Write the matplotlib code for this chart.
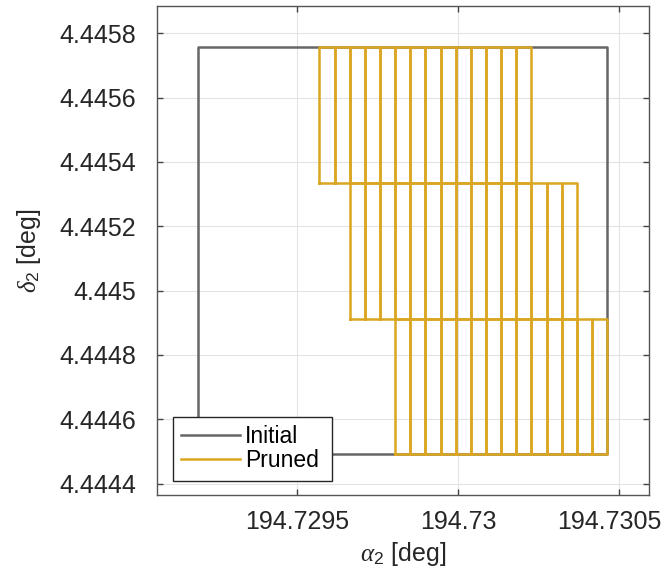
import matplotlib
matplotlib.use("Agg")
import matplotlib.pyplot as plt
from matplotlib.transforms import ScaledTranslation

# Initial search box (right ascension / declination, degrees)
alpha_bounds = [194.729195, 194.730462]
delta_bounds = [4.444491, 4.445758]

# Box subdivision: columns in alpha, rows in delta
n_alpha = 27
n_delta = 3

# Cells that survive pruning, per delta row (row 0 = lowest declination)
kept_cols = {
    0: list(range(13, 27)),
    1: list(range(10, 25)),
    2: list(range(8, 22)),
}

xticks = [194.7295, 194.73, 194.7305]
xtick_labels = ["194.7295", "194.73", "194.7305"]
yticks = [4.4444, 4.4446, 4.4448, 4.445, 4.4452, 4.4454, 4.4456, 4.4458]
ytick_labels = ["4.4444", "4.4446", "4.4448", "4.445", "4.4452", "4.4454", "4.4456", "4.4458"]

plt.rcParams["font.family"] = ["Liberation Sans", "DejaVu Sans"]
plt.rcParams["mathtext.fontset"] = "custom"
plt.rcParams["mathtext.rm"] = "Liberation Sans"
plt.rcParams["mathtext.it"] = "Liberation Serif:italic"

fig = plt.figure(figsize=(6.66, 5.81), dpi=100)
ax = fig.add_axes([157 / 666, 86 / 581, 492 / 666, 489 / 581])

initial_color = "#666666"
pruned_color = "#DAA520"


def box(x0, x1, y0, y1):
    return [x0, x1, x1, x0, x0], [y0, y0, y1, y1, y0]


xs, ys = box(alpha_bounds[0], alpha_bounds[1], delta_bounds[0], delta_bounds[1])
ax.plot(xs, ys, color=initial_color, lw=1.8, label="Initial", zorder=2)

da = (alpha_bounds[1] - alpha_bounds[0]) / n_alpha
dd = (delta_bounds[1] - delta_bounds[0]) / n_delta
first = True
for row, cols in kept_cols.items():
    y0 = delta_bounds[0] + row * dd
    for c in cols:
        x0 = alpha_bounds[0] + c * da
        xs, ys = box(x0, x0 + da, y0, y0 + dd)
        ax.plot(xs, ys, color=pruned_color, lw=1.8, zorder=3,
                label="Pruned" if first else None)
        first = False

ax.set_xlim(194.729067, 194.730592)
ax.set_ylim(4.4443646, 4.4458849)
ax.set_xticks(xticks)
ax.set_xticklabels(xtick_labels)
ax.set_yticks(yticks)
ax.set_yticklabels(ytick_labels)

ax.grid(True, color="#e3e3e3", lw=0.8, zorder=0)
ax.set_axisbelow(True)
for s in ax.spines.values():
    s.set_color("#555555")
    s.set_linewidth(1.0)
ax.tick_params(direction="in", length=4.5, width=1.0, color="#444444",
               top=True, right=True, labelsize=18, labelcolor="#262626")
ax.tick_params(axis="x", pad=11)
ax.tick_params(axis="y", pad=15)

# keep the last alpha tick label inside the figure
last = ax.xaxis.get_major_ticks()[-1].label1
last.set_transform(last.get_transform() + ScaledTranslation(-10 / 100, 0, fig.dpi_scale_trans))

ax.set_xlabel(r"$\alpha_{\mathregular{2}}$ [deg]", fontsize=18, color="#262626", labelpad=4)
ax.set_ylabel(r"$\delta_{\mathregular{2}}$ [deg]", fontsize=18, color="#262626", labelpad=12)

leg = ax.legend(loc="lower left", mode="expand", fontsize=16.5, frameon=True,
                fancybox=False, framealpha=1, edgecolor="#262626",
                handlelength=2.6, handletextpad=0.2, borderpad=0.35,
                labelspacing=0.05, borderaxespad=0.0,
                bbox_to_anchor=(15.5 / 492, 14.5 / 489, 159 / 492, 0.1))
leg.get_frame().set_linewidth(1.0)

fig.savefig("out.png", dpi=100)
